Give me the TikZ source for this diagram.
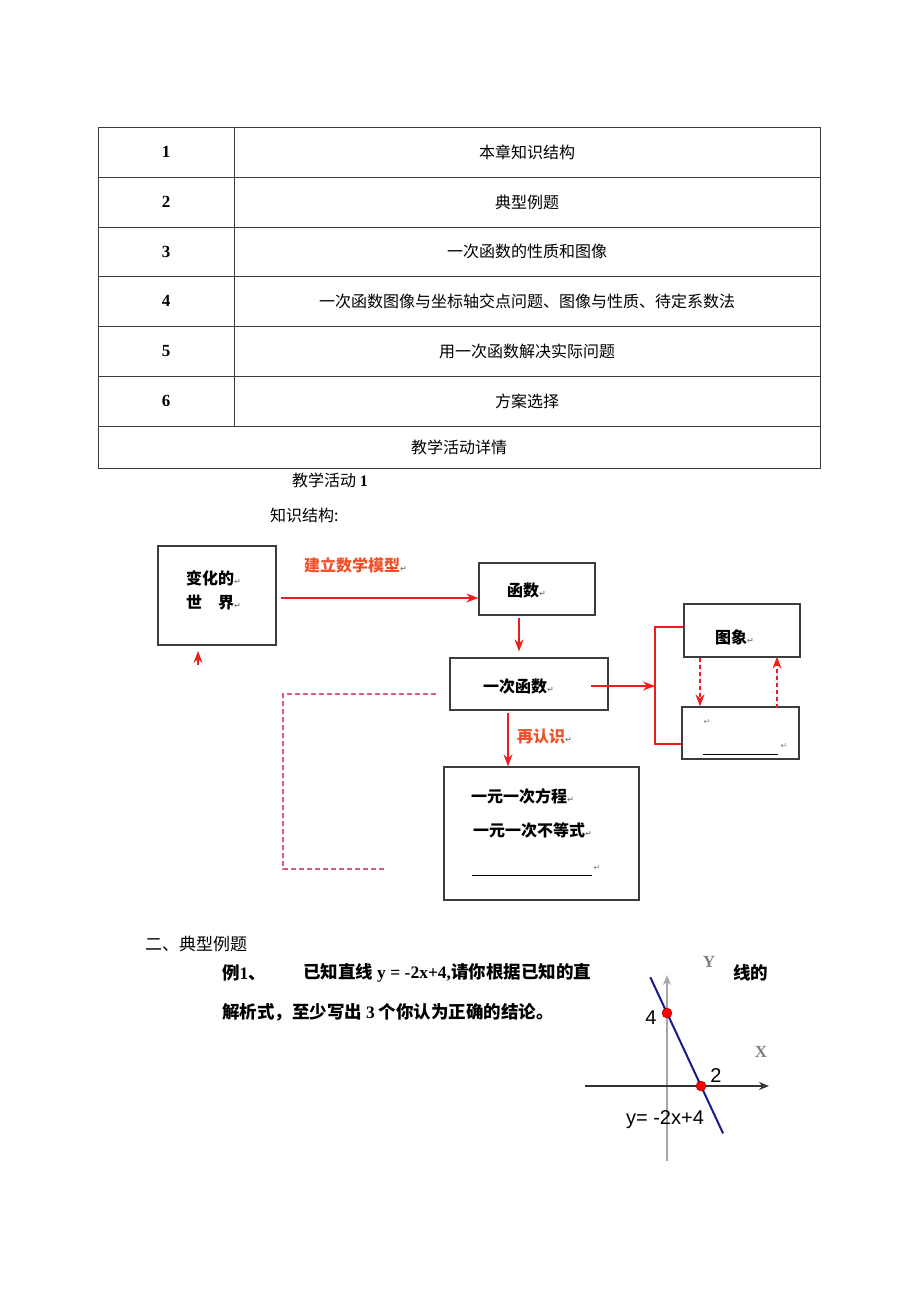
\documentclass[tikz,border=0pt]{standalone}
\usepackage{fontspec}
\usepackage{tikz}
\usetikzlibrary{positioning,calc,arrows.meta}
\setmainfont{Liberation Serif}
\newfontfamily\cjk{Noto Sans CJK SC}
\newfontfamily\sansf{Liberation Sans}
\newfontfamily\dejavu{DejaVu Sans}
\definecolor{arrowred}{RGB}{235,30,30}
\definecolor{labelred}{RGB}{240,80,40}
\definecolor{dashpink}{RGB}{220,90,125}
\definecolor{boxgray}{RGB}{60,60,60}
\definecolor{lineblue}{RGB}{25,25,135}
\newcommand{\pmk}{{\dejavu\color{gray}\fontsize{8}{8}\selectfont ↵}}
\newcommand{\lat}[1]{{\rmfamily #1}}

\begin{document}
\begin{tikzpicture}[x=1pt, y=-1pt, >={Stealth[length=12pt, width=9pt]},
    tab/.style={draw=boxgray, line width=0.9pt},
    cell/.style={font=\cjk\fontsize{16}{18}\selectfont, inner sep=0pt},
    num/.style={font=\bfseries\fontsize{17}{19}\selectfont, inner sep=0pt},
    txt/.style={font=\cjk\fontsize{16}{18}\selectfont, anchor=west, inner sep=0pt},
    box/.style={draw=boxgray, line width=1.3pt, inner sep=0pt},
    bt/.style={font=\cjk\bfseries\fontsize{16}{18}\selectfont, anchor=west, inner sep=0pt},
    rt/.style={bt, text=labelred},
    redarrow/.style={->, draw=arrowred, fill=arrowred, line width=1.3pt},
    redline/.style={draw=arrowred, line width=1.3pt},
    dasharrow/.style={redarrow, dash pattern=on 4pt off 3pt},
    pinkdash/.style={draw=dashpink, line width=1.5pt, dash pattern=on 5pt off 3pt},
    qt/.style={font=\cjk\bfseries\fontsize{17.5}{19}\selectfont, anchor=west, inner sep=0pt},
    glabel/.style={font=\sansf\fontsize{20}{22}\selectfont, inner sep=0pt},
    axlabel/.style={font=\bfseries\fontsize{17}{19}\selectfont, text=gray, inner sep=0pt},
    dot/.style={circle, fill=red, draw=red!60!black, minimum size=10pt, inner sep=0pt}]
    \useasboundingbox (0,0) rectangle (920,1301);

    % Table
    \draw[tab] (98,127) rectangle (820,468);
    \foreach \y in {177,227,276,326,376,426}
        \draw[tab] (98,\y) -- (820,\y);
    \draw[tab] (234,127) -- (234,426);
    \foreach \n/\y/\t in {1/152/本章知识结构, 2/202/典型例题, 3/251.5/一次函数的性质和图像,
        4/301/一次函数图像与坐标轴交点问题、图像与性质、待定系数法,
        5/351/用一次函数解决实际问题, 6/401/方案选择} {
        \node[num] (n\n) at (166,\y) {\n};
        \node[cell] (c\n) at (527,\y) {\t};
    }
    \node[cell] (detail) at (459,447) {教学活动详情};

    \node[txt] (act) at (292,480) {教学活动 \lat{\bfseries 1}};
    \node[txt] (kstr) at (270,515) {知识结构:};

    % Boxes
    \node[box, minimum width=118pt, minimum height=99pt] (world) at (217,595.5) {};
    \node[box, minimum width=116pt, minimum height=52pt] (hanshu) at (537,589) {};
    \node[box, minimum width=158pt, minimum height=52pt] (yici) at (529,684) {};
    \node[box, minimum width=116pt, minimum height=53pt] (tuxiang) at (742,630.5) {};
    \node[box, minimum width=117pt, minimum height=52pt] (blank) at (740.5,733) {};
    \node[box, minimum width=195pt, minimum height=133pt] (eqn) at (541.5,833.5) {};

    % Box texts
    \node[bt] (tw1) at (186,578) {变化的\pmk};
    \node[bt] (tw2) at (186,603) {世\hspace{1em}界\pmk};
    \node[bt] (th) at (507,590) {函数\pmk};
    \node[bt] (ty) at (483,686) {一次函数\pmk};
    \node[bt] (tt) at (715,637) {图象\pmk};
    \node[bt] (te1) at (471,796) {一元一次方程\pmk};
    \node[bt] (te2) at (473,830) {一元一次不等式\pmk};
    \draw[black, line width=0.8pt] (472,875) -- (592,875);
    \node[inner sep=0pt] (te3) at (597,868) {\pmk};
    \node[inner sep=0pt] (tb1) at (707,722) {\pmk};
    \draw[black, line width=0.8pt] (703,754) -- (778,754);
    \node[inner sep=0pt] (tb2) at (784,746) {\pmk};

    % Labels
    \node[rt] (model) at (304,565) {建立数学模型\pmk};
    \node[rt] (again) at (517,736) {再认识\pmk};

    % Connections
    \coordinate (up1) at (198,665);
    \coordinate (up2) at (198,651);
    \draw[redarrow] (up1) -- (up2);
    \draw[redarrow] ([xshift=4pt,yshift=-2.5pt]world.east) -- ([yshift=-9pt]hanshu.west);
    \draw[redarrow, shorten >=6pt] ([xshift=-18pt,yshift=-2pt]hanshu.south) -- ([xshift=-10pt]yici.north);
    \coordinate (brk) at (655,686);
    \coordinate (bt) at (655,627);
    \coordinate (bb) at (655,744);
    \draw[redarrow] ([xshift=-18pt,yshift=-2pt]yici.east) -- (brk);
    \draw[redline] (tuxiang.west |- bt) -- (bt) -- (bb) -- (blank.west |- bb);
    \draw[dasharrow] ([xshift=-42pt]tuxiang.south) -- ([xshift=-40.5pt]blank.north);
    \draw[dasharrow] ([xshift=36.5pt,yshift=-2pt]blank.north) -- ([xshift=35pt,yshift=1pt]tuxiang.south);
    \draw[redarrow] ([xshift=-21pt,yshift=-2pt]yici.south) -- ([xshift=-33.5pt]eqn.north);
    \coordinate (ls) at (436,694);
    \coordinate (le) at (385,869);
    \draw[pinkdash] (ls) -| (283,869) -- (le);

    % Example
    \node[txt, font=\cjk\fontsize{17}{19}\selectfont] (sec2) at (145,944) {二、典型例题};
    \node[qt] (ex1) at (222,973) {例\lat{1}、};
    \node[qt] (ex2) at (303,973) {已知直线 \lat{y = -2x+4,}请你根据已知的直};
    \node[qt] (ex3) at (733,973) {线的};
    \node[qt] (ex4) at (222,1012) {解析式，至少写出 \lat{3} 个你认为正确的结论。};

    % Graph
    \coordinate (ytop) at (667,975);
    \coordinate (ybot) at (667,1161);
    \coordinate (xl) at (585,1086);
    \coordinate (xr) at (769,1086);
    \coordinate (a4) at (667,1013);
    \coordinate (a2) at (701,1086);
    \draw[-{Stealth[length=10pt, width=8pt]}, draw=gray!70, fill=gray!70, line width=1.8pt] (ybot) -- (ytop);
    \draw[-{Stealth[length=10pt, width=8pt]}, draw=black!80, fill=black!80, line width=2.2pt] (xl) -- (xr);
    \draw[draw=lineblue, line width=2pt] ($(a4)!-0.49!(a2)$) -- ($(a4)!1.65!(a2)$);
    \node[dot] (p4) at (a4) {};
    \node[dot] (p2) at (a2) {};
    \node[glabel] (l4) at (651,1018) {4};
    \node[glabel] (l2) at (716,1076) {2};
    \node[glabel] (eq) at (665,1120) {y= -2x+4};
    \node[axlabel] (ly) at (709,962) {Y};
    \node[axlabel] (lx) at (761,1052) {X};
\end{tikzpicture}
\end{document}
